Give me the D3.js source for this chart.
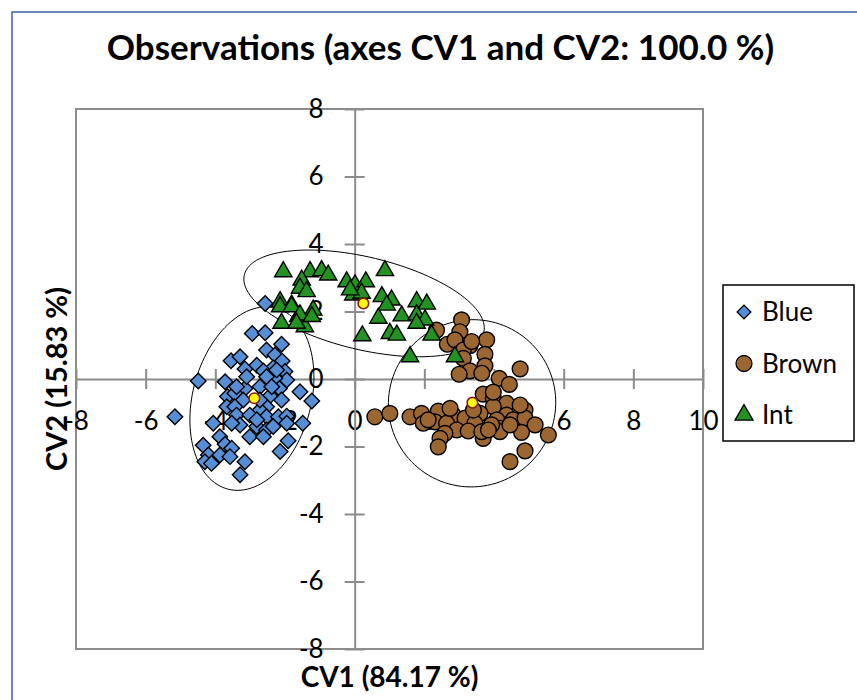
<!DOCTYPE html>
<html>
<head>
<meta charset="utf-8">
<script src="https://cdn.jsdelivr.net/npm/d3@7"></script>
<style>
  body { margin: 0; background: #fff; }
  svg { display: block; font-family: Lato, "Open Sans", sans-serif; }
</style>
</head>
<body>
<svg id="chart" width="857" height="700"></svg>
<script>
// observations on CV1 / CV2
const blue = [
  [-2.57, 2.24], [-2.94, 1.35], [-2.57, 1.37], [-2.10, 1.03], [-2.53, 0.86], [-2.29, 0.71],
  [-3.55, 0.54], [-3.29, 0.66], [-2.08, 0.53], [-2.81, 0.41], [-3.15, 0.30], [-2.34, 0.33],
  [-2.62, 0.24], [-2.00, 0.22], [-1.95, -0.03], [-2.29, 0.02], [-2.53, 0.07], [-4.49, -0.06],
  [-3.72, -0.08], [-3.15, -0.28], [-2.16, -0.28], [-1.57, -0.38], [-1.23, -0.65], [-3.65, -0.52],
  [-3.44, -0.42], [-3.20, -0.62], [-2.10, -0.62], [-2.43, -0.50], [-3.67, -0.82], [-3.44, -0.82],
  [-2.53, -0.82], [-2.72, -0.92], [-5.16, -1.12], [-3.39, -1.07], [-3.01, -1.07], [-2.53, -1.12],
  [-2.19, -1.12], [-1.95, -1.10], [-1.49, -1.31], [-4.06, -1.31], [-3.29, -1.36], [-2.81, -1.41],
  [-2.53, -1.51], [-2.34, -1.41], [-3.01, -1.71], [-2.62, -1.71], [-3.87, -1.71], [-1.91, -1.83],
  [-4.35, -1.96], [-3.72, -1.93], [-3.53, -2.05], [-2.14, -2.15], [-4.20, -2.25], [-3.87, -2.25],
  [-4.30, -2.45], [-4.11, -2.50], [-3.15, -2.45], [-3.29, -2.84], [-3.58, -2.30], [-2.72, -0.23],
  [-2.38, -0.23], [-3.39, -0.23], [-2.72, -0.62], [-2.81, -1.21], [-1.95, -1.31], [-2.24, 0.27],
  [-3.10, 0.07], [-3.53, -1.31]
];
const brown = [
  [3.07, 1.75], [2.35, 1.45], [3.02, 1.40], [2.66, 1.03], [2.88, 1.16], [3.31, 0.99],
  [3.79, 1.16], [3.12, 0.86], [3.74, 0.73], [3.12, 0.61], [3.74, 0.39], [3.31, 0.24],
  [3.00, 0.14], [3.65, 0.17], [4.75, 0.30], [4.15, 0.02], [4.44, -0.16], [3.69, -0.45],
  [3.98, -0.57], [4.36, -0.72], [3.98, -0.82], [3.60, -1.02], [4.89, -0.92], [4.36, -1.07],
  [0.58, -1.12], [1.01, -1.02], [1.59, -1.12], [1.92, -1.02], [2.40, -0.95], [2.83, -1.07],
  [3.17, -1.16], [2.31, -1.27], [1.97, -1.31], [2.64, -1.31], [3.45, -1.31], [4.08, -1.21],
  [4.55, -1.21], [4.89, -1.16], [5.18, -1.36], [2.93, -1.51], [2.59, -1.61], [3.26, -1.54],
  [4.17, -1.46], [4.79, -1.58], [5.56, -1.66], [3.69, -1.76], [4.17, -1.56], [2.45, -1.76],
  [2.40, -2.01], [4.89, -2.13], [4.46, -2.45], [3.93, -1.36], [4.46, -1.36], [3.98, -0.39],
  [3.65, -1.56], [2.11, -1.21], [2.74, -0.87], [3.41, -0.92], [3.36, 1.11], [4.75, -0.77],
  [3.84, -1.51]
];
const int = [
  [-2.05, 3.18], [-1.28, 3.18], [-0.95, 3.21], [-0.76, 3.08], [-1.52, 2.93], [-1.57, 2.69],
  [-1.38, 2.59], [-0.23, 2.88], [0.01, 2.79], [0.32, 2.88], [0.87, 3.21], [-0.04, 2.49],
  [0.20, 2.54], [-0.13, 2.64], [0.78, 2.44], [1.06, 2.34], [0.92, 2.19], [-2.14, 2.29],
  [-1.81, 2.19], [-1.19, 2.04], [-1.62, 1.85], [-2.10, 1.65], [-1.43, 1.55], [0.68, 1.80],
  [1.35, 1.87], [1.78, 2.29], [2.07, 2.22], [1.78, 1.90], [2.02, 1.75], [1.78, 1.65],
  [1.01, 1.35], [1.21, 1.30], [0.22, 1.28], [2.21, 1.30], [1.59, 0.66], [2.88, 0.66],
  [-2.14, 2.14], [-1.81, 2.14], [-1.57, 1.90], [-1.23, 1.85], [-1.67, 1.65]
];

const groups = ["Blue", "Brown", "Int"];
const centroids = [[-2.88, -0.57], [3.38, -0.70], [0.25, 2.24]];
// confidence ellipses: centre, semi-axes, angle (degrees)
const ellCenters = [[-2.95, -0.58], [3.37, -0.72], [0.27, 2.24]];
const ellAxes = [[2.77, 1.70], [2.48, 2.40], [3.54, 1.37]];
const ellAngles = [76, 80, -14];

const xTicks = [-8, -6, -4, -2, 0, 2, 4, 6, 8, 10];
const yTicks = [-8, -6, -4, -2, 0, 2, 4, 6, 8];

const fills = { Blue: "#558ed5", Brown: "#9c6632", Int: "#229322" };
const shapes = { Blue: "diamond", Brown: "circle", Int: "triangle" };

const svg = d3.select("svg#chart");
const plot = { left: 76, right: 703, top: 109, bottom: 649 };
const axisColor = "#8c8c8c";

const x = d3.scaleLinear([-8, 10], [plot.left, plot.right]);
const y = d3.scaleLinear([-8, 8], [plot.bottom, plot.top]);
const plain = (d) => String(d); // keep the ascii hyphen like the original

// chart area border
svg.append("rect")
	.attr("x", 12).attr("y", 12)
	.attr("width", 900).attr("height", 760)
	.attr("fill", "white")
	.attr("stroke", "#3c64a0")
	.attr("stroke-width", 1.5);

svg.append("text")
	.attr("x", 440.5).attr("y", 60)
	.attr("text-anchor", "middle")
	.attr("font-weight", "bold")
	.attr("font-size", 35)
	.text("Observations (axes CV1 and CV2: 100.0 %)");

svg.append("rect")
	.attr("x", plot.left).attr("y", plot.top)
	.attr("width", plot.right - plot.left)
	.attr("height", plot.bottom - plot.top)
	.attr("fill", "none")
	.attr("stroke", axisColor)
	.attr("stroke-width", 2);

const xAxis = svg.append("g")
	.attr("transform", `translate(0,${y(0)})`)
	.call(d3.axisBottom(x).tickValues(xTicks).tickFormat(plain).tickSize(10).tickSizeOuter(0));
xAxis.selectAll("line").attr("y1", -10).attr("y2", 10);
xAxis.selectAll("text").attr("y", 51).attr("dy", 0).attr("font-size", 26);

const yAxis = svg.append("g")
	.attr("transform", `translate(${x(0)},0)`)
	.call(d3.axisLeft(y).tickValues(yTicks).tickFormat(plain).tickSize(10).tickSizeOuter(0));
yAxis.selectAll("line").attr("x1", -10).attr("x2", 10);
yAxis.selectAll("text").attr("x", -31).attr("dy", 8).attr("font-size", 26);

[xAxis, yAxis].forEach((a) => {
	a.selectAll("path, line").attr("stroke", axisColor).attr("stroke-width", 2);
	a.selectAll("text").attr("fill", "black");
	a.attr("font-family", null);
});

svg.append("text")
	.attr("x", (plot.left + plot.right) / 2).attr("y", 687)
	.attr("text-anchor", "middle")
	.attr("font-weight", "bold")
	.attr("font-size", 28)
	.text("CV1 (84.17 %)");

svg.append("text")
	.attr("transform", `translate(67,${(plot.top + plot.bottom) / 2}) rotate(-90)`)
	.attr("text-anchor", "middle")
	.attr("font-weight", "bold")
	.attr("font-size", 29)
	.text("CV2 (15.83 %)");

// ellipses
const ellLine = d3.line().x((d) => x(d[0])).y((d) => y(d[1]));
const ellipses = groups.map((g, i) => {
	const [cx, cy] = ellCenters[i];
	const [a, b] = ellAxes[i];
	const th = (ellAngles[i] * Math.PI) / 180;
	return d3.range(0, 121).map((k) => {
		const t = (k / 120) * 2 * Math.PI;
		return [
			cx + a * Math.cos(t) * Math.cos(th) - b * Math.sin(t) * Math.sin(th),
			cy + a * Math.cos(t) * Math.sin(th) + b * Math.sin(t) * Math.cos(th),
		];
	});
});
svg.append("g")
	.selectAll("path")
	.data(ellipses)
	.join("path")
	.attr("d", ellLine)
	.attr("fill", "none")
	.attr("stroke", "black")
	.attr("stroke-width", 1);

const symbolFor = {
	diamond: d3.symbol(d3.symbolSquare, 120),
	circle: d3.symbol(d3.symbolCircle, 195),
	triangle: d3.symbol(d3.symbolTriangle, 130),
};
const rotFor = { diamond: 45, circle: 0, triangle: 0 };

const series = { Blue: blue, Brown: brown, Int: int };
groups.forEach((g) => {
	const s = shapes[g];
	svg.append("g")
		.selectAll("path")
		.data(series[g])
		.join("path")
		.attr("d", symbolFor[s])
		.attr("transform", (d) => `translate(${x(d[0])},${y(d[1])}) rotate(${rotFor[s]})`)
		.attr("fill", fills[g])
		.attr("stroke", "black")
		.attr("stroke-width", 1.4);
});

svg.append("g")
	.selectAll("circle")
	.data(centroids)
	.join("circle")
	.attr("cx", (d) => x(d[0]))
	.attr("cy", (d) => y(d[1]))
	.attr("r", 5.3)
	.attr("fill", "#ffff00")
	.attr("stroke", "#8b1a1a")
	.attr("stroke-width", 1.6);

// legend
const legend = svg.append("g");
legend.append("rect")
	.attr("x", 723).attr("y", 285)
	.attr("width", 131).attr("height", 156)
	.attr("fill", "white")
	.attr("stroke", "black")
	.attr("stroke-width", 1.5);
const legendY = d3.scalePoint(groups, [312, 415]);
const legendSym = {
	diamond: d3.symbol(d3.symbolSquare, 95),
	circle: d3.symbol(d3.symbolCircle, 200),
	triangle: d3.symbol(d3.symbolTriangle, 140),
};
legend.selectAll("path")
	.data(groups)
	.join("path")
	.attr("d", (g) => legendSym[shapes[g]]())
	.attr("transform", (g) => `translate(744,${legendY(g)}) rotate(${rotFor[shapes[g]]})`)
	.attr("fill", (g) => fills[g])
	.attr("stroke", "black")
	.attr("stroke-width", 1.3);
legend.selectAll("text")
	.data(groups)
	.join("text")
	.attr("x", 762)
	.attr("y", (g) => legendY(g) + 9)
	.attr("font-size", 26)
	.text((g) => g);
</script>
</body>
</html>
